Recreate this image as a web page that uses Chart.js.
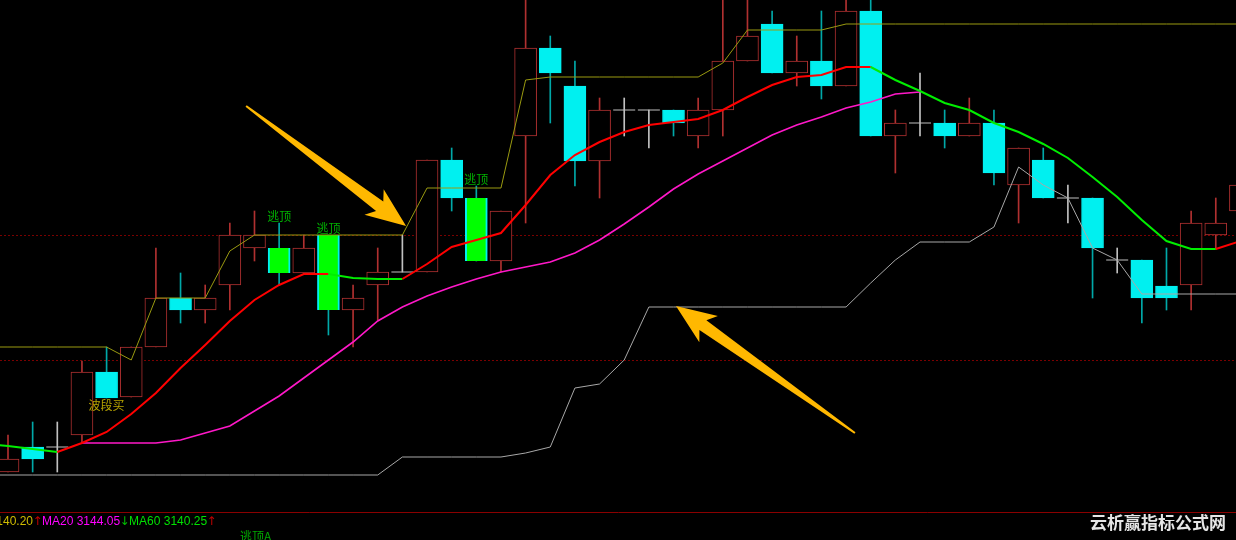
<!DOCTYPE html>
<html>
<head>
<meta charset="utf-8">
<script src="https://cdn.jsdelivr.net/npm/chart.js@4.4.0/dist/chart.umd.min.js"></script>
<style>
  html, body { margin: 0; padding: 0; background: #000; }
  #wrap { position: relative; width: 1236px; height: 540px; }
</style>
</head>
<body>
<div id="wrap"><canvas id="kChart"></canvas></div>
<script>
// ── candles, one per bar (index 0..50) ─────────
const opens = [3112.8, 3115.3, 3115.3, 3116.5, 3122.8, 3120.3, 3125.3, 3130.2, 3129.0, 3131.5,
  3135.2, 3135.2, 3132.7, 3136.5, 3129.0, 3131.5, 3132.8, 3132.8, 3144.0, 3140.2,
  3133.9, 3146.4, 3155.2, 3151.4, 3143.9, 3149.0, 3149.0, 3149.0, 3146.4, 3149.0,
  3153.9, 3157.6, 3152.7, 3153.9, 3151.4, 3158.9, 3146.4, 3147.7, 3147.7, 3146.4,
  3147.7, 3141.5, 3144.0, 3140.2, 3140.2, 3134.0, 3134.0, 3131.4, 3131.5, 3136.5, 3138.9];
const highs = [3116.5, 3117.8, 3117.8, 3123.9, 3125.3, 3125.3, 3135.2, 3132.7, 3131.5, 3137.7,
  3138.9, 3137.7, 3136.5, 3136.5, 3131.5, 3135.2, 3136.5, 3144.0, 3145.2, 3141.4,
  3138.9, 3160.5, 3156.4, 3153.9, 3150.2, 3150.2, 3149.0, 3149.0, 3150.2, 3160.5,
  3160.5, 3158.9, 3156.4, 3158.9, 3160.5, 3160.5, 3149.0, 3152.7, 3149.0, 3150.2,
  3149.0, 3145.2, 3145.2, 3141.5, 3140.2, 3135.2, 3134.0, 3135.2, 3138.9, 3140.2, 3142.5];
const lows = [3112.8, 3112.8, 3112.8, 3115.7, 3120.2, 3120.3, 3125.3, 3127.7, 3127.7, 3129.0,
  3133.9, 3131.5, 3132.7, 3126.5, 3125.3, 3128.0, 3132.8, 3132.8, 3138.9, 3133.9,
  3132.8, 3137.7, 3147.7, 3141.4, 3140.2, 3146.4, 3145.2, 3146.4, 3145.2, 3146.4,
  3153.9, 3152.7, 3151.4, 3150.1, 3151.4, 3146.4, 3142.7, 3146.4, 3145.2, 3146.4,
  3141.5, 3137.7, 3140.2, 3137.7, 3130.2, 3132.7, 3127.7, 3129.0, 3129.0, 3135.1, 3138.0];
const closes = [3114.1, 3114.1, 3115.3, 3122.8, 3120.2, 3125.3, 3130.2, 3129.0, 3130.2, 3136.5,
  3136.5, 3132.7, 3135.2, 3129.0, 3130.2, 3132.8, 3132.8, 3144.0, 3140.2, 3133.9,
  3138.9, 3155.2, 3152.7, 3143.9, 3149.0, 3149.0, 3149.0, 3147.7, 3149.0, 3153.9,
  3156.4, 3152.7, 3153.9, 3151.4, 3158.9, 3146.4, 3147.7, 3147.7, 3146.4, 3147.7,
  3142.7, 3145.2, 3140.2, 3140.2, 3135.2, 3134.0, 3130.2, 3130.2, 3137.7, 3137.7, 3141.5];

// ── overlay lines (start one bar earlier, index -1..50) ──
const lineStart = -1;
const maShort = [3115.6, 3115.4, 3115.1, 3114.8, 3115.7, 3116.8, 3118.6, 3120.7, 3123.2, 3125.5, 3127.9,
  3130.0, 3131.5, 3132.6, 3132.6, 3132.2, 3132.1, 3132.1, 3133.6, 3135.3, 3136.0,
  3136.7, 3139.5, 3142.5, 3144.5, 3145.8, 3146.8, 3147.5, 3147.8, 3148.1, 3149.0,
  3150.3, 3151.5, 3152.3, 3152.5, 3153.3, 3153.3, 3152.0, 3150.9, 3149.7, 3149.0,
  3147.7, 3146.8, 3145.6, 3144.2, 3142.3, 3140.3, 3138.0, 3135.9, 3135.1, 3135.1, 3135.9];
const ma20 = [null, null, null, null, 3115.7, 3115.7, 3115.7, 3115.7, 3116.0, 3116.7, 3117.4,
  3118.9, 3120.4, 3122.2, 3124.0, 3125.8, 3127.9, 3129.3, 3130.4, 3131.3, 3132.1,
  3132.8, 3133.3, 3133.8, 3134.7, 3136.0, 3137.6, 3139.3, 3141.1, 3142.6, 3143.9,
  3145.2, 3146.5, 3147.5, 3148.3, 3149.2, 3149.8, 3150.6, 3150.8, null, null,
  null, null, null, null, null, null, null, null, null, null, null];
const upperStop = [3125.3, 3125.3, 3125.3, 3125.3, 3125.3, 3125.3, 3124.0, 3130.2, 3130.2, 3130.2, 3134.9,
  3136.5, 3136.5, 3136.5, 3136.5, 3136.5, 3136.5, 3136.5, 3141.2, 3141.2, 3141.2,
  3141.2, 3152.0, 3152.3, 3152.3, 3152.3, 3152.3, 3152.3, 3152.3, 3152.3, 3153.7,
  3157.0, 3157.0, 3157.0, 3157.0, 3157.6, 3157.6, 3157.6, 3157.6, 3157.6, 3157.6,
  3157.6, 3157.6, 3157.6, 3157.6, 3157.6, 3157.6, 3157.6, 3157.6, 3157.6, 3157.6, 3157.6];
const lowerStop = [3112.5, 3112.5, 3112.5, 3112.5, 3112.5, 3112.5, 3112.5, 3112.5, 3112.5, 3112.5, 3112.5,
  3112.5, 3112.5, 3112.5, 3112.5, 3112.5, 3112.5, 3114.3, 3114.3, 3114.3, 3114.3,
  3114.3, 3114.7, 3115.3, 3121.2, 3121.6, 3124.0, 3129.3, 3129.3, 3129.3, 3129.3,
  3129.3, 3129.3, 3129.3, 3129.3, 3129.3, 3131.7, 3134.0, 3135.8, 3135.8, 3135.8,
  3137.3, 3143.3, 3141.5, 3140.2, 3135.2, 3134.0, 3130.6, 3130.6, 3130.6, 3130.6, 3130.6];

// ── levels, signals, notes ─────────────────────
const levelLines = [3136.5, 3124.0];
const escapeIdx = [11, 13, 19];   // 逃顶
const buyIdx = [4];               // 波段买
const arrows = [
  { from: [9.66, 3149.4], to: [16.15, 3137.4] },
  { from: [34.36, 3116.7], to: [27.10, 3129.4] }
];
const legendParts = [
  ['140.20', '#d0bc00'], ['↑', '#c00000'],
  ['MA20 3144.05', '#ff00ff'], ['↓', '#00c000'],
  ['MA60 3140.25', '#00e000'], ['↑', '#c00000']
];

const UP = '#b03030', DOWN = '#00f0f0', DOWN_WICK = '#00a8a8', DOJI = '#c0c0c0', SIGNAL = '#00ff00';

function kind(i) {
  if (closes[i] > opens[i]) return 'up';
  if (closes[i] < opens[i]) return 'down';
  return 'doji';
}

function maColor(i) {
  for (let k = i; k >= 0; k--) {
    const d = maShort[k + 1] - maShort[k];
    if (d > 0) return '#ff0000';
    if (d < 0) return '#00ee00';
  }
  return '#00ee00';
}

const idx = opens.map((_, i) => i);
const toXY = arr => arr.map((v, i) => ({ x: i + lineStart, y: v }));

const bgPlugin = {
  id: 'bg',
  beforeDraw(chart) {
    const ctx = chart.ctx;
    ctx.save();
    ctx.fillStyle = '#000';
    ctx.fillRect(0, 0, chart.width, chart.height);
    ctx.restore();
  }
};

function drawArrow(ctx, x0, y0, x1, y1) {
  const dx = x1 - x0, dy = y1 - y0, len = Math.hypot(dx, dy);
  const ux = dx / len, uy = dy / len, nx = -uy, ny = ux;
  const head = 40, barb = 16, neck = 6, tail = 1;
  const bx = x1 - ux * head, by = y1 - uy * head;
  const jx = x1 - ux * (head - 7), jy = y1 - uy * (head - 7);
  ctx.beginPath();
  ctx.moveTo(x0 + nx * tail, y0 + ny * tail);
  ctx.lineTo(jx + nx * neck, jy + ny * neck);
  ctx.lineTo(bx + nx * barb, by + ny * barb);
  ctx.lineTo(x1, y1);
  ctx.lineTo(bx - nx * barb, by - ny * barb);
  ctx.lineTo(jx - nx * neck, jy - ny * neck);
  ctx.lineTo(x0 - nx * tail, y0 - ny * tail);
  ctx.closePath();
  ctx.fill();
}

const notesPlugin = {
  id: 'notes',
  afterDatasetsDraw(chart) {
    const { ctx, scales: { x, y } } = chart;
    ctx.save();
    ctx.fillStyle = '#ffb800';
    arrows.forEach(a => {
      drawArrow(ctx, x.getPixelForValue(a.from[0]), y.getPixelForValue(a.from[1]),
        x.getPixelForValue(a.to[0]), y.getPixelForValue(a.to[1]));
    });
    ctx.font = '12px "Noto Sans CJK SC"';
    ctx.textAlign = 'center';
    ctx.fillStyle = '#00b000';
    ctx.textBaseline = 'bottom';
    escapeIdx.forEach(i => ctx.fillText('逃顶', x.getPixelForValue(i), y.getPixelForValue(highs[i]) - 1));
    ctx.fillStyle = '#b8a400';
    ctx.textBaseline = 'top';
    buyIdx.forEach(i => ctx.fillText('波段买', x.getPixelForValue(i), y.getPixelForValue(lows[i]) + 1));
    ctx.restore();
  },
  afterDraw(chart) {
    const ctx = chart.ctx;
    const base = chart.chartArea.bottom;
    ctx.save();
    ctx.textBaseline = 'middle';
    ctx.font = '12px "Liberation Sans"';
    let px = 33 - ctx.measureText(legendParts[0][0]).width;
    legendParts.forEach(([t, c]) => {
      ctx.fillStyle = c;
      if (t.length === 1) {
        // trend arrow squeezed into a narrow slot
        ctx.font = '12px "DejaVu Sans"';
        ctx.textAlign = 'center';
        ctx.fillText(t, px + 3.5, base + 10);
        px += 8;
      } else {
        ctx.font = '12px "Liberation Sans"';
        ctx.textAlign = 'left';
        ctx.fillText(t, px, base + 10);
        px += ctx.measureText(t).width + 1;
      }
    });
    ctx.font = '12px "Noto Sans CJK SC"';
    ctx.fillStyle = '#00a800';
    ctx.textAlign = 'left';
    ctx.textBaseline = 'top';
    ctx.fillText('逃顶A', 240, base + 18);
    ctx.font = 'bold 17px "Noto Sans CJK SC"';
    ctx.fillStyle = '#e6e6e6';
    ctx.textAlign = 'right';
    ctx.textBaseline = 'middle';
    ctx.fillText('云析赢指标公式网', 1226, base + 11);
    ctx.restore();
  }
};

new Chart(document.getElementById('kChart').getContext('2d'), {
  type: 'bar',
  data: {
    datasets: [
      {
        type: 'line', label: 'MA', order: 0,
        data: toXY(maShort),
        borderWidth: 2, pointRadius: 0, tension: 0,
        borderColor: '#ff0000',
        segment: { borderColor: c => maColor(c.p0DataIndex) }
      },
      {
        type: 'line', label: 'MA20', order: 0,
        data: toXY(ma20),
        borderColor: '#ff18c8', borderWidth: 1.6, pointRadius: 0, tension: 0, spanGaps: false
      },
      {
        type: 'line', label: 'upper', order: 0,
        data: toXY(upperStop),
        borderColor: '#9a9a10', borderWidth: 1, pointRadius: 0, tension: 0
      },
      {
        type: 'line', label: 'lower', order: 0,
        data: toXY(lowerStop),
        borderColor: '#a8a8a8', borderWidth: 1, pointRadius: 0, tension: 0
      },
      {
        type: 'line', label: 'doji', order: 1, showLine: false,
        data: idx.filter(i => kind(i) === 'doji').map(i => ({ x: i, y: opens[i] })),
        pointStyle: 'line', pointRadius: 11, pointBorderColor: DOJI, pointBorderWidth: 1
      },
      {
        label: 'body', order: 1, grouped: false,
        data: idx.filter(i => kind(i) !== 'doji').map(i => ({ x: i, y: [opens[i], closes[i]] })),
        barThickness: 22, borderSkipped: false,
        backgroundColor: c => {
          const i = c.raw.x;
          if (escapeIdx.includes(i)) return SIGNAL;
          return kind(i) === 'up' ? '#000' : DOWN;
        },
        borderColor: c => (kind(c.raw.x) === 'up' ? UP : DOWN),
        borderWidth: c => (escapeIdx.includes(c.raw.x) ? { left: 2, right: 2, top: 0, bottom: 0 } : 1)
      },
      {
        label: 'wick', order: 2, grouped: false,
        data: idx.map(i => ({ x: i, y: [lows[i], highs[i]] })),
        barThickness: 1, borderWidth: 0,
        backgroundColor: c => {
          const k = kind(c.raw.x);
          return k === 'up' ? UP : (k === 'down' ? DOWN_WICK : DOJI);
        }
      }
    ]
  },
  options: {
    responsive: true,
    maintainAspectRatio: false,
    animation: false,
    events: [],
    layout: { autoPadding: false, padding: { left: 0, right: 0, top: 0, bottom: 28 } },
    plugins: { legend: { display: false }, tooltip: { enabled: false } },
    scales: {
      x: {
        type: 'linear', min: -0.3245, max: 49.82, offset: false,
        ticks: { display: false },
        grid: { display: false, drawTicks: false },
        border: { display: true, color: '#8a0000', width: 1 }
      },
      y: {
        min: 3108.8, max: 3160,
        ticks: { display: false },
        afterBuildTicks: s => { s.ticks = levelLines.map(v => ({ value: v })); },
        grid: { color: '#7a0000', drawTicks: false },
        border: { display: false, dash: [2, 2] }
      }
    }
  },
  plugins: [bgPlugin, notesPlugin]
});
</script>
</body>
</html>
